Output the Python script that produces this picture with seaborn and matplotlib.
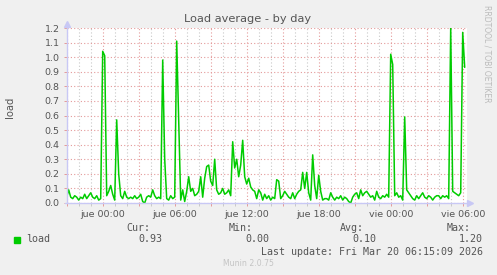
import numpy as np
import pandas as pd
import matplotlib
matplotlib.use("Agg")
import matplotlib.pyplot as plt
from matplotlib.lines import Line2D
import seaborn as sns

# ---- data (5-min RRD samples shown every 10 minutes, starting Wed 21:00) ----
start_label = "mié 21:00"
step_minutes = 10
load = [
    0.04, 0.09, 0.04, 0.03, 0.05, 0.04, 0.02, 0.04, 0.03, 0.06,
    0.03, 0.05, 0.07, 0.04, 0.03, 0.05, 0.02, 0.03, 1.04, 1.01,
    0.05, 0.08, 0.12, 0.06, 0.02, 0.57, 0.20, 0.05, 0.03, 0.08,
    0.04, 0.03, 0.04, 0.03, 0.05, 0.03, 0.04, 0.06, 0.01, 0.00,
    0.04, 0.05, 0.04, 0.09, 0.05, 0.03, 0.04, 0.03, 0.98, 0.30,
    0.03, 0.02, 0.05, 0.03, 0.04, 1.11, 0.55, 0.02, 0.09, 0.01,
    0.08, 0.18, 0.08, 0.10, 0.05, 0.06, 0.08, 0.18, 0.04, 0.17,
    0.25, 0.26, 0.15, 0.12, 0.30, 0.09, 0.06, 0.07, 0.10, 0.06,
    0.07, 0.09, 0.05, 0.42, 0.24, 0.30, 0.18, 0.26, 0.43, 0.18,
    0.13, 0.17, 0.11, 0.09, 0.08, 0.03, 0.09, 0.07, 0.02, 0.06,
    0.03, 0.05, 0.02, 0.04, 0.03, 0.16, 0.15, 0.03, 0.05, 0.08,
    0.06, 0.04, 0.03, 0.07, 0.03, 0.06, 0.08, 0.09, 0.21, 0.10,
    0.21, 0.07, 0.02, 0.33, 0.12, 0.03, 0.19, 0.08, 0.02, 0.03,
    0.03, 0.02, 0.07, 0.04, 0.02, 0.04, 0.03, 0.05, 0.02, 0.04,
    0.03, 0.01, 0.00, 0.04, 0.06, 0.07, 0.03, 0.09, 0.05, 0.07,
    0.08, 0.06, 0.04, 0.05, 0.02, 0.08, 0.04, 0.03, 0.05, 0.04,
    0.06, 0.04, 1.02, 0.95, 0.05, 0.07, 0.04, 0.05, 0.02, 0.59,
    0.09, 0.07, 0.05, 0.03, 0.02, 0.05, 0.03, 0.05, 0.07, 0.04,
    0.03, 0.05, 0.04, 0.02, 0.04, 0.05, 0.05, 0.03, 0.05, 0.04,
    0.05, 0.03, 1.20, 0.08, 0.07, 0.06, 0.05, 0.07, 1.17, 0.93,
]
tick_hours = [3, 9, 15, 21, 27, 33]
tick_labels = ["jue 00:00", "jue 06:00", "jue 12:00", "jue 18:00", "vie 00:00", "vie 06:00"]
y_ticks = [0.0, 0.1, 0.2, 0.3, 0.4, 0.5, 0.6, 0.7, 0.8, 0.9, 1.0, 1.1, 1.2]
title = "Load average - by day"
ylabel = "load"
series_name = "load"
stat_names = ["Cur:", "Min:", "Avg:", "Max:"]
stat_values = ["0.93", "0.00", "0.10", "1.20"]
last_update = "Last update: Fri Mar 20 06:15:09 2026"
footer = "Munin 2.0.75"
side_text = "RRDTOOL / TOBI OETIKER"

hours = np.arange(len(load)) * step_minutes / 60.0
df = pd.DataFrame({"hours": hours, "load": load})

# ---- styling ----
sns.set_theme(style="white")
plt.rcParams["font.family"] = ["DejaVu Sans"]

W, H = 497, 275
BG = "#F0F0F0"
TXT = "#555555"
AX = "#C8C8F5"
MGRID = "#E49A9A"
GRID = "#C8C8C8"
GREEN = "#00CC00"

fig = plt.figure(figsize=(W / 100, H / 100), dpi=100, facecolor=BG)
L, R, T, B = 66.7, 466.7, 28.0, 203.0
ax = fig.add_axes([L / W, 1 - B / H, (R - L) / W, (B - T) / H])
ax.set_facecolor("white")

sns.lineplot(data=df, x="hours", y="load", ax=ax, color=GREEN, linewidth=1.1)

ax.set_xlim(0, 400 / 12)
ax.set_ylim(0, 1.2)

major_x = list(range(0, 34, 3))
ax.set_xticks(major_x)
ax.set_xticklabels([tick_labels[tick_hours.index(h)] if h in tick_hours else "" for h in major_x])
ax.set_xticks(list(range(0, 34, 1)), minor=True)
ax.set_yticks(y_ticks)
ax.set_yticklabels([f"{v:.1f}" for v in y_ticks])

ax.grid(which="major", color=MGRID, linestyle=(0, (1, 2)), linewidth=0.8)
ax.grid(which="minor", axis="x", color=GRID, linestyle=(0, (1, 2)), linewidth=0.8)
ax.set_axisbelow(True)

ax.tick_params(axis="both", which="major", labelsize=6.8, labelcolor=TXT,
               length=2, width=0.7, color=MGRID, pad=3, direction="out",
               bottom=True, left=True)
ax.tick_params(axis="x", which="minor", length=2, width=0.7, color=GRID, bottom=True)
ax.set_xlabel("")
ax.set_ylabel("")
for s in ax.spines.values():
    s.set_visible(False)

def fx(x):
    return x / W

def fy(y):
    return 1 - y / H

# axes lines with arrows
fig.add_artist(Line2D([fx(L), fx(L)], [fy(B), fy(24)], color=AX, lw=1.0))
fig.add_artist(Line2D([fx(L - 2), fx(469)], [fy(B), fy(B)], color=AX, lw=1.0))
fig.add_artist(Line2D([fx(L)], [fy(23.5)], marker="^", markersize=5, color=AX, lw=0))
fig.add_artist(Line2D([fx(470)], [fy(B)], marker=">", markersize=5, color=AX, lw=0))

# texts
fig.text(fx(248), fy(19), title, ha="center", va="center", fontsize=8.2, color=TXT)
fig.text(fx(10), fy(107), ylabel, ha="center", va="center", rotation=90, fontsize=7.2, color=TXT)
fig.text(fx(487), fy(5), side_text, ha="center", va="top", rotation=270, fontsize=5.5, color="#BBBBBB")

mono = "DejaVu Sans Mono"
fig.patches.append(plt.Rectangle((fx(14), fy(242.7)), 5.5 / W, 5.5 / H,
                                 transform=fig.transFigure, color=GREEN, figure=fig))
fig.text(fx(26.5), fy(239.5), series_name, ha="left", va="center", family=mono, fontsize=7.2, color=TXT)
name_right = [150.5, 253, 363.5, 470.5]
val_right = [162.7, 269.3, 376, 482.7]
for n, v, nr, vr in zip(stat_names, stat_values, name_right, val_right):
    fig.text(fx(nr), fy(227.7), n, ha="right", va="center", family=mono, fontsize=7.2, color=TXT)
    fig.text(fx(vr), fy(239.5), v, ha="right", va="center", family=mono, fontsize=7.2, color=TXT)
fig.text(fx(482.7), fy(251.7), last_update, ha="right", va="center", family=mono, fontsize=7.2, color=TXT)
fig.text(fx(248), fy(264), footer, ha="center", va="center", fontsize=5.6, color="#C4C4C4")

fig.savefig("out.png", dpi=100, facecolor=BG)
